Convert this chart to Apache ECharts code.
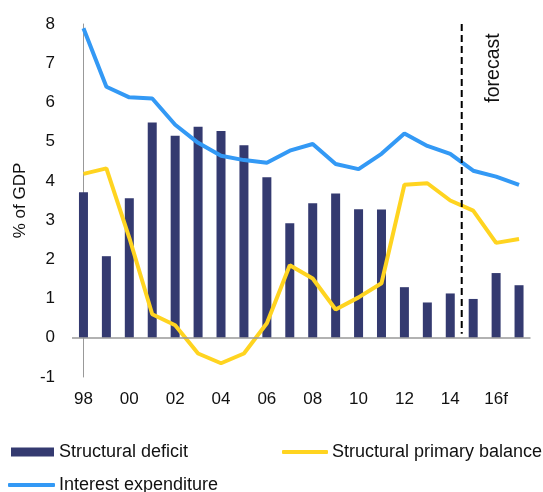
<!DOCTYPE html>
<html>
<head>
<meta charset="utf-8">
<script src="https://cdn.jsdelivr.net/npm/echarts@6/dist/echarts.min.js"></script>
<style>
html,body{margin:0;padding:0;background:#fff;}
#chart{width:543px;height:492px;}
</style>
</head>
<body>
<div id="chart"></div>
<script>
const years = ['98','99','00','01','02','03','04','05','06','07','08','09','10','11','12','13','14','15','16f','17'];
const structuralDeficit = [3.71,2.08,3.56,5.49,5.15,5.38,5.27,4.91,4.09,2.92,3.43,3.68,3.28,3.27,1.29,0.90,1.13,0.99,1.65,1.34];
const structuralPrimaryBalance = [4.18,4.32,2.55,0.60,0.32,-0.40,-0.65,-0.40,0.37,1.85,1.51,0.72,1.03,1.39,3.90,3.94,3.50,3.24,2.42,2.52];
const interestExpenditure = [7.89,6.40,6.13,6.10,5.43,4.97,4.64,4.53,4.46,4.77,4.94,4.43,4.30,4.69,5.21,4.89,4.69,4.26,4.11,3.90];
const yTicks = {min:-1, max:8, interval:1};
const forecastBoundary = 16.5; // between '14' and '15'
const forecastLine = [[forecastBoundary, 8], [forecastBoundary, 0.1]];

const FONT = '"Liberation Sans", Arial, sans-serif';
const FS = 17;
const LFS = 18;
const chart = echarts.init(document.getElementById('chart'), null, {renderer:'canvas'});
chart.setOption({
  animation:false,
  textStyle:{fontFamily:FONT},
  grid:{left:72, right:12.5, top:24, bottom:115, containLabel:false},
  xAxis:[{
    type:'category', data:years, boundaryGap:true,
    axisLine:{show:false}, axisTick:{show:false},
    axisLabel:{interval:1, fontSize:FS, color:'#111', margin:14, fontFamily:FONT}
  },{
    type:'value', min:-0.5, max:19.5, show:false
  }],
  yAxis:{
    type:'value', min:yTicks.min, max:yTicks.max, interval:yTicks.interval,
    name:'% of GDP', nameLocation:'middle', nameGap:39,
    nameTextStyle:{fontSize:FS, color:'#111', fontFamily:FONT},
    axisLine:{show:true, lineStyle:{color:'#999', width:1}},
    axisTick:{show:false}, splitLine:{show:false},
    axisLabel:{fontSize:FS, color:'#111', margin:17, fontFamily:FONT}
  },
  legend:[
    {data:[{name:'Structural deficit', icon:'rect'}], left:6, top:438, itemWidth:43, itemHeight:9,
     textStyle:{fontSize:LFS, color:'#111', fontFamily:FONT}},
    {data:[{name:'Structural primary balance', icon:'roundRect'}], left:277, top:438, itemWidth:46, itemHeight:4,
     textStyle:{fontSize:LFS, color:'#111', fontFamily:FONT, padding:[0,0,0,-1]}},
    {data:[{name:'Interest expenditure', icon:'roundRect'}], left:3, top:471, itemWidth:47, itemHeight:4,
     textStyle:{fontSize:LFS, color:'#111', fontFamily:FONT, padding:[0,0,0,-1]}}
  ],
  graphic:[{
    type:'text', x:494, y:68, rotation:Math.PI/2,
    style:{text:'forecast', fontSize:19.5, fill:'#111', fontFamily:FONT, align:'center', verticalAlign:'middle'}
  }],
  series:[
    {name:'Structural deficit', type:'bar', data:structuralDeficit, barWidth:9,
     itemStyle:{color:'#343A70'},
     markLine:{silent:true, symbol:'none', label:{show:false},
       lineStyle:{color:'#999', type:'solid', width:1.5},
       data:[{yAxis:0}]}},
    {name:'Structural primary balance', type:'line', data:structuralPrimaryBalance,
     symbol:'none', lineStyle:{color:'#FFD420', width:4}, itemStyle:{color:'#FFD420'}},
    {name:'Interest expenditure', type:'line', data:interestExpenditure,
     symbol:'none', lineStyle:{color:'#3399F5', width:4}, itemStyle:{color:'#3399F5'}},
    {name:'forecastLine', type:'line', xAxisIndex:1, data:forecastLine, symbol:'none',
     lineStyle:{color:'#000', width:2, type:[7,4]}, silent:true, z:5}
  ]
});
</script>
</body>
</html>
